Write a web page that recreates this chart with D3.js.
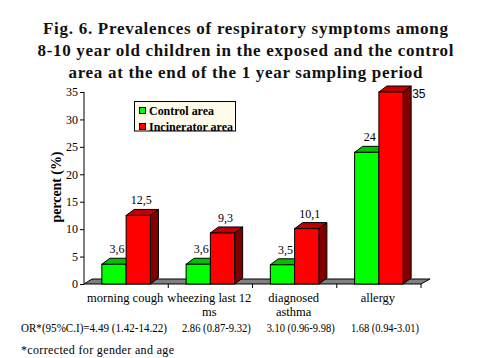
<!DOCTYPE html>
<html><head><meta charset="utf-8">
<script src="https://cdn.jsdelivr.net/npm/d3@7"></script>
<style>body{margin:0;background:#fff}svg{display:block}</style>
</head><body>
<script>
const titleLines = ["Fig. 6. Prevalences of respiratory symptoms among",
  "8-10 year old children in the exposed and the control",
  "area at the end of the 1 year sampling period"];
const categories = ["morning cough", "wheezing last 12 ms", "diagnosed asthma", "allergy"];
const categoryLines = [["morning cough"], ["wheezing last 12", "ms"], ["diagnosed", "asthma"], ["allergy"]];
const seriesNames = ["Control area", "Incinerator area"];
const controlValues = [3.6, 3.6, 3.5, 24];
const incineratorValues = [12.5, 9.3, 10.1, 35];
const controlLabels = ["3,6", "3,6", "3,5", "24"];
const incineratorLabels = ["12,5", "9,3", "10,1", "35"];
const yTicks = [0, 5, 10, 15, 20, 25, 30, 35];
const orLabels = ["OR*(95%C.I)=4.49 (1.42-14.22)", "2.86 (0.87-9.32)", "3.10 (0.96-9.98)", "1.68 (0.94-3.01)"];
const footnote = "*corrected for gender and age";
const yLabel = "percent (%)";

const W = 478, H = 358;
const svg = d3.select("body").append("svg").attr("width", W).attr("height", H);
const serif = "'Liberation Serif','Times New Roman',serif";

// title
const titleWidths = [405, 416, 354];
svg.selectAll("text.title").data(titleLines).join("text")
  .attr("x", 245.5).attr("y", (d, i) => 34 + i * 22)
  .attr("text-anchor", "middle").attr("font-family", serif).attr("font-weight", "bold")
  .attr("font-size", 17).attr("fill", "#111")
  .attr("textLength", (d, i) => titleWidths[i]).attr("lengthAdjust", "spacing")
  .text(d => d);

const x0 = 84, x1 = 421, yBase = 284;
const y = d3.scaleLinear().domain([0, 35]).range([yBase, 92]);
const xc = d3.scaleBand().domain(categories).range([x0, x1]);
const xs = d3.scaleBand().domain(seriesNames).range([0, xc.bandwidth()]).paddingInner(0).paddingOuter(0.735);
const dx = 8, dy = -6;

// floor
const g = svg.append("g");
g.append("path")
  .attr("d", `M${x0},${yBase} L${x0 + dx},${yBase - 5} L${x1 + dx + 1},${yBase - 5} L${x1},${yBase} Z`)
  .attr("fill", "#808080").attr("stroke", "#000").attr("stroke-width", 1);

// category ticks below axis
g.selectAll("line.ct").data(categories).join("line")
  .attr("x1", d => xc(d) + xc.bandwidth()).attr("x2", d => xc(d) + xc.bandwidth())
  .attr("y1", yBase).attr("y2", yBase + 4).attr("stroke", "#000");

// y axis
const yAxis = d3.axisLeft(y).tickValues(yTicks).tickSize(4).tickPadding(2);
const ya = svg.append("g").attr("transform", `translate(${x0},0)`).call(yAxis);
ya.select(".domain").attr("d", `M0,${y(35)}V${yBase}`).attr("stroke", "#000");
ya.selectAll("text").attr("font-family", serif).attr("font-size", 12).attr("fill", "#000");

svg.append("text").attr("transform", "translate(56,187) rotate(-90)")
  .attr("text-anchor", "middle").attr("dominant-baseline", "central")
  .attr("font-family", serif).attr("font-weight", "bold").attr("font-size", 14)
  .attr("textLength", 71).attr("lengthAdjust", "spacing").text(yLabel);

const series = [
  {name: seriesNames[0], values: controlValues, labels: controlLabels, front: "#00FF00", top: "#00C000", side: "#008000"},
  {name: seriesNames[1], values: incineratorValues, labels: incineratorLabels, front: "#FF0000", top: "#C00000", side: "#800000"}
];

series.forEach(s => {
  const bw = xs.bandwidth();
  const bars = svg.append("g");
  categories.forEach((c, i) => {
    const v = s.values[i];
    const bx = xc(c) + xs(s.name);
    const by = y(v);
    bars.append("path").attr("d", `M${bx + bw},${by} L${bx + bw + dx},${by + dy} L${bx + bw + dx},${yBase + dy} L${bx + bw},${yBase} Z`)
      .attr("fill", s.side).attr("stroke", "#000").attr("stroke-linejoin", "round");
    bars.append("path").attr("d", `M${bx},${by} L${bx + dx},${by + dy} L${bx + bw + dx},${by + dy} L${bx + bw},${by} Z`)
      .attr("fill", s.top).attr("stroke", "#000").attr("stroke-linejoin", "round");
    bars.append("rect").attr("x", bx).attr("y", by).attr("width", bw).attr("height", yBase - by)
      .attr("fill", s.front).attr("stroke", "#000");
    if (by + dy < y(35) + 2) {
      bars.append("text").attr("x", bx + bw + dx + 1).attr("y", by + 6)
        .attr("font-family", "'Liberation Sans',Arial,sans-serif").attr("font-size", 12).text(s.labels[i]);
    } else {
      bars.append("text").attr("x", bx + bw / 2 + dx / 2 - 1).attr("y", by + dy - 5)
        .attr("text-anchor", "middle").attr("font-family", serif).attr("font-size", 12).text(s.labels[i]);
    }
  });
});

// category labels
categories.forEach((c, i) => {
  svg.append("text").attr("x", xc(c) + xc.bandwidth() / 2 - 1).attr("y", 302)
    .attr("text-anchor", "middle").attr("font-family", serif).attr("font-size", 12.5)
    .selectAll("tspan").data(categoryLines[i]).join("tspan")
    .attr("x", xc(c) + xc.bandwidth() / 2 - 1).attr("dy", (d, j) => j ? 14 : 0).text(d => d);
});

// OR line
const orWidths = [146, 69, 68, 68];
orLabels.forEach((t, i) => {
  const c = categories[i];
  const t0 = svg.append("text").attr("y", 332).attr("font-family", serif).attr("font-size", 12)
    .attr("textLength", orWidths[i]).attr("lengthAdjust", "spacingAndGlyphs").text(t);
  if (i === 0) t0.attr("x", 21);
  else t0.attr("x", xc(c) + xc.bandwidth() / 2 + 6).attr("text-anchor", "middle");
});
svg.append("text").attr("x", 21).attr("y", 354).attr("font-family", serif).attr("font-size", 12)
  .attr("textLength", 153).attr("lengthAdjust", "spacing").text(footnote);

// legend
const lg = svg.append("g");
lg.append("rect").attr("x", 134.5).attr("y", 101.5).attr("width", 101).attr("height", 29.5)
  .attr("fill", "#FFFBEA").attr("stroke", "#000");
const legendWidths = [65, 84];
series.forEach((s, i) => {
  const cy = 110.5 + i * 16;
  lg.append("rect").attr("x", 139.5).attr("y", cy - 3).attr("width", 6).attr("height", 6)
    .attr("fill", s.front).attr("stroke", "#000");
  lg.append("text").attr("x", 149).attr("y", cy).attr("dominant-baseline", "central")
    .attr("font-family", serif).attr("font-weight", "bold").attr("font-size", 12).attr("fill", "#000")
    .attr("textLength", legendWidths[i]).attr("lengthAdjust", "spacingAndGlyphs")
    .text(s.name);
});
</script>
</body></html>
